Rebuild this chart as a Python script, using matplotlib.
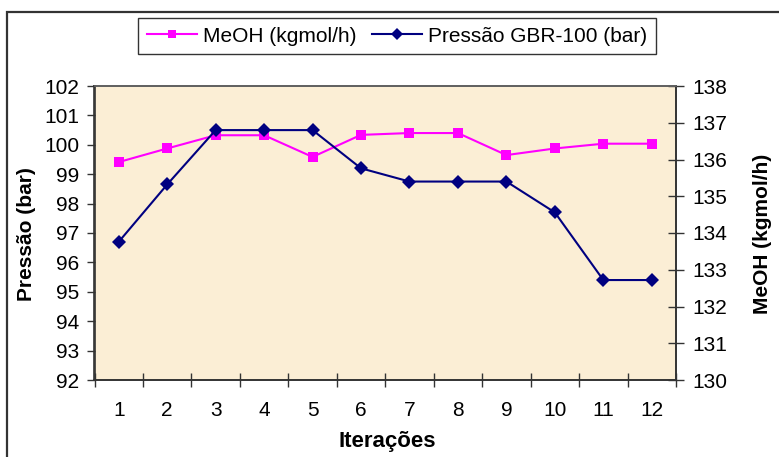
import matplotlib
matplotlib.use("Agg")
import matplotlib.pyplot as plt
from matplotlib.patches import Rectangle

plt.rcParams['font.family'] = ['Liberation Sans', 'DejaVu Sans']

# Data
iteracoes = [1, 2, 3, 4, 5, 6, 7, 8, 9, 10, 11, 12]
pressao = [96.7, 98.65, 100.5, 100.5, 100.5, 99.2, 98.75, 98.75, 98.75, 97.7, 95.4, 95.4]
meoh = [135.93, 136.3, 136.66, 136.66, 136.07, 136.67, 136.72, 136.72, 136.12, 136.3, 136.43, 136.43]
pressao_ticks = list(range(92, 103))
meoh_ticks = list(range(130, 139))

FS = 15
W, H = 779, 457
fig = plt.figure(figsize=(W / 100, H / 100), dpi=100)
fig.patch.set_facecolor('white')

# chart-area border
fig.patches.append(Rectangle((7 / W, -20 / H), 1.0, (H - 12 + 20) / H,
                             transform=fig.transFigure, fill=False,
                             edgecolor='#333333', linewidth=1.6, zorder=0))

left, right, top, bottom = 94.5, 676, 86, 380
rect = [left / W, 1 - bottom / H, (right - left) / W, (bottom - top) / H]
ax = fig.add_axes(rect)
ax2 = ax.twinx()

# background on the secondary axes, primary drawn on top
ax2.patch.set_facecolor('#FBEED5')
ax2.patch.set_visible(True)
ax.set_zorder(ax2.get_zorder() + 1)
ax.patch.set_visible(False)

l_meoh, = ax2.plot(iteracoes, meoh, color='#FF00FF', linewidth=1.5,
                   marker='s', markersize=7, markeredgewidth=0)
l_pres, = ax.plot(iteracoes, pressao, color='#000080', linewidth=1.5,
                  marker='D', markersize=7, markeredgewidth=0)

ax.set_xlim(0.5, 12.5)
ax.set_ylim(92, 102)
ax2.set_ylim(130, 138)

ax.set_yticks(pressao_ticks)
ax.set_yticklabels([str(v) for v in pressao_ticks], fontsize=FS)
ax2.set_yticks(meoh_ticks)
ax2.set_yticklabels([str(v) for v in meoh_ticks], fontsize=FS)

# category boundaries as major ticks, labels on minor ticks
ax.set_xticks([i + 0.5 for i in range(0, 13)])
ax.set_xticklabels([])
ax.set_xticks(iteracoes, minor=True)
ax.set_xticklabels([str(v) for v in iteracoes], minor=True, fontsize=FS)
ax.tick_params(axis='x', which='major', direction='inout', length=10, width=1, color='#333333')
ax.tick_params(axis='x', which='minor', length=0, pad=15)
ax.tick_params(axis='y', direction='out', length=6, width=1, color='#333333', pad=5)
ax2.tick_params(axis='y', direction='inout', length=11, width=1, color='#333333', pad=6)

for a in (ax, ax2):
    for s in a.spines.values():
        s.set_color('#333333')
        s.set_linewidth(1.2)
ax.spines['top'].set_color('#666666')

fig.text(27 / W, 1 - 234 / H, 'Pressão (bar)', rotation=90, ha='center', va='center',
         fontsize=FS, fontweight='bold')
fig.text(763 / W, 1 - 234 / H, 'MeOH (kgmol/h)', rotation=90, ha='center', va='center',
         fontsize=FS, fontweight='bold')
fig.text(387 / W, 1 - 441 / H, 'Iterações', ha='center', va='center',
         fontsize=FS + 1, fontweight='bold')

leg = fig.legend([l_meoh, l_pres], ['MeOH (kgmol/h)', 'Pressão GBR-100 (bar)'],
                 loc='center', bbox_to_anchor=(397 / W, 1 - 36 / H), ncol=2,
                 fontsize=FS, frameon=True, fancybox=False, shadow=False,
                 handlelength=2.4, handletextpad=0.3, columnspacing=0.75,
                 borderpad=0.4, borderaxespad=0, markerscale=0.85)
leg.get_frame().set_edgecolor('#000000')
leg.get_frame().set_linewidth(1.0)

fig.savefig('out.png', dpi=100)
